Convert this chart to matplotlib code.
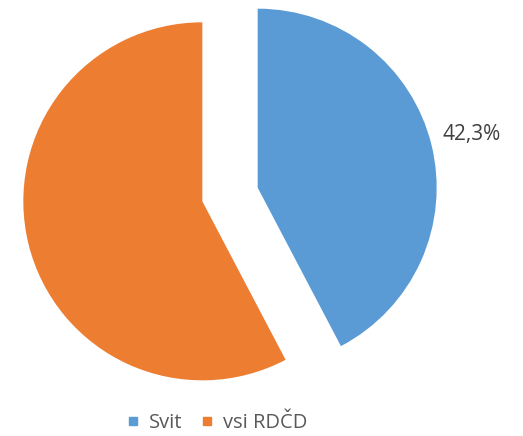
import matplotlib.pyplot as plt

labels = ["Svit", "vsi RDČD"]
values = [42.3, 57.7]
colors = ["#5B9BD5", "#ED7D31"]

plt.rcParams["font.family"] = ["Open Sans", "DejaVu Sans"]

fig = plt.figure(figsize=(5.23, 4.36), dpi=100)
ax = fig.add_axes([0, 0, 1, 1])


def pct(p):
    # samo modri del ima oznako
    return f"{p:.1f}%".replace(".", ",") if p < 50 else ""


# explode je v enotah osi (ne deleži polmera)
wedges, texts, autotexts = ax.pie(
    values, colors=colors, startangle=90, counterclock=False,
    explode=[28.5, 28.5], radius=179, center=(230, 241.5),
    autopct=pct, pctdistance=1.23, frame=True,
    wedgeprops=dict(linewidth=0),
)
for t in autotexts:
    t.set_color("#404040")
    t.set_fontsize(15)

ax.set_xlim(0, 523)
ax.set_ylim(0, 436)
ax.set_aspect("equal")
ax.axis("off")

handles = [plt.Line2D([], [], marker="s", ls="", color=c, markersize=6) for c in colors]
fig.legend(handles, labels, loc="center", bbox_to_anchor=(0.415, 0.03), ncol=2,
           frameon=False, fontsize=14.5, handlelength=0.6, handletextpad=0.5,
           columnspacing=0.9, labelcolor="#595959")

plt.savefig("out.png", dpi=100)
